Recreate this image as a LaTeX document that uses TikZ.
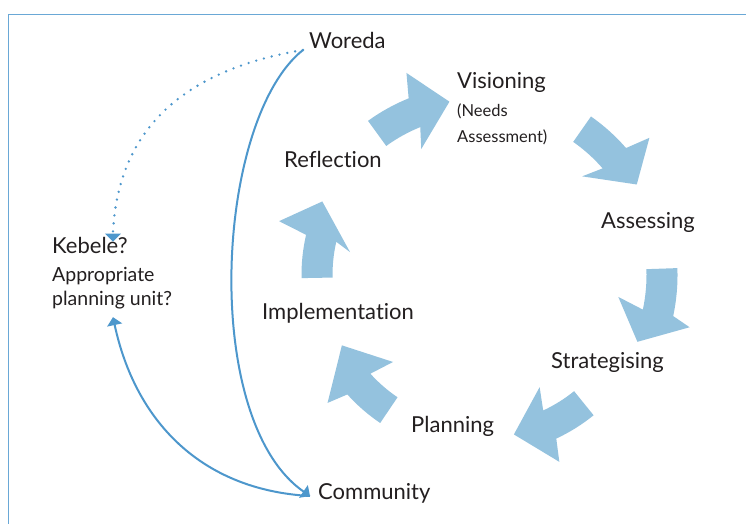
\documentclass[tikz,border=0pt]{standalone}
\usepackage{fontspec}
\setmainfont{Lato}[Ligatures=NoCommon]
\usetikzlibrary{arrows.meta,calc}
\definecolor{cycfill}{HTML}{94C2DE}
\definecolor{linkblue}{HTML}{4D97CC}
\definecolor{framblue}{HTML}{6AA8D6}
\definecolor{txt}{HTML}{231F20}
\newcommand\cycarr[5]{%
  \fill[cycfill] (#1:{#3+15.5}) arc[start angle=#1, end angle={#1-14}, radius={#3+15.5}]
    -- ({#1-16}:{#5+38}) -- (#2:#4) -- ({#1-11}:{#5-38})
    -- ({#1-14}:{#3-15.5}) arc[start angle={#1-14}, end angle=#1, radius={#3-15.5}] -- cycle;}
\begin{document}
\begin{tikzpicture}[x=1pt,y=1pt,
  lab/.style={anchor=west,inner sep=0pt,text=txt,font=\fontsize{22}{26}\selectfont},
  small/.style={anchor=west,inner sep=0pt,text=txt,font=\fontsize{16.5}{20}\selectfont},
  mid/.style={anchor=west,inner sep=0pt,text=txt,font=\fontsize{19.5}{23}\selectfont},
  link/.style={draw=linkblue,line width=2pt},
  tip/.style={-{Triangle[width=15pt,length=8pt]}},
  dotline/.style={draw=linkblue,line width=2.6pt,line cap=round,dash pattern=on 0pt off 8pt}]
\useasboundingbox (0,0) rectangle (746,524);
\fill[white] (0,0) rectangle (746,524);
% frame
\draw[framblue,line width=1.8pt] (8.5,0) -- (8.5,509.5) -- (746,509.5);
% cycle arrows
\begin{scope}[shift={(480,249)}]
\cycarr{126}{100}{175}{176}{177}
\cycarr{55}{30}{178}{181}{180}
\cycarr{2}{-23}{182}{171}{178}
\cycarr{-51}{-78}{165}{163}{165}
\cycarr{-124}{-153}{163}{155}{161}
\cycarr{181}{155}{163}{174}{170}
\end{scope}
% labels
\node[lab] (woreda) at (309,484) {Woreda};
\node[lab] (vision) at (457,442) {Visioning};
\node[small] (needs) at (457,413) {(Needs};
\node[small] (assess2) at (457,387) {Assessment)};
\node[lab] (reflect) at (284,365) {Reflection};
\node[lab] (assess) at (601,302) {Assessing};
\node[lab] (impl) at (262,211) {Implementation};
\node[lab] (strat) at (551,162) {Strategising};
\node[lab] (plan) at (411,98) {Planning};
\node[lab] (comm) at (318,31) {Community};
\node[lab] (kebele) at (52,279) {Kebele?};
\node[mid] (approp) at (52,248) {Appropriate};
\node[mid] (punit) at (52,224) {planning unit?};
% connectors
\draw[dotline] ([shift={(-6pt,-10pt)}]woreda.west) .. controls (190,455) and (118,400) .. ([shift={(23pt,3pt)}]kebele.north);
\fill[linkblue] ([shift={(23pt,-5pt)}]kebele.north) -- ++(-8,8) -- ++(16,0) -- cycle;
\draw[link,tip] ([shift={(-6pt,-10pt)}]woreda.west) .. controls (215,404) and (200,104) .. ([shift={(-8pt,-3pt)}]comm.west);
\draw[link,tip] ([shift={(-8pt,-3pt)}]comm.west) .. controls (200,34) and (135,104) .. ([shift={(61pt,-8pt)}]punit.south west);
\end{tikzpicture}
\end{document}
